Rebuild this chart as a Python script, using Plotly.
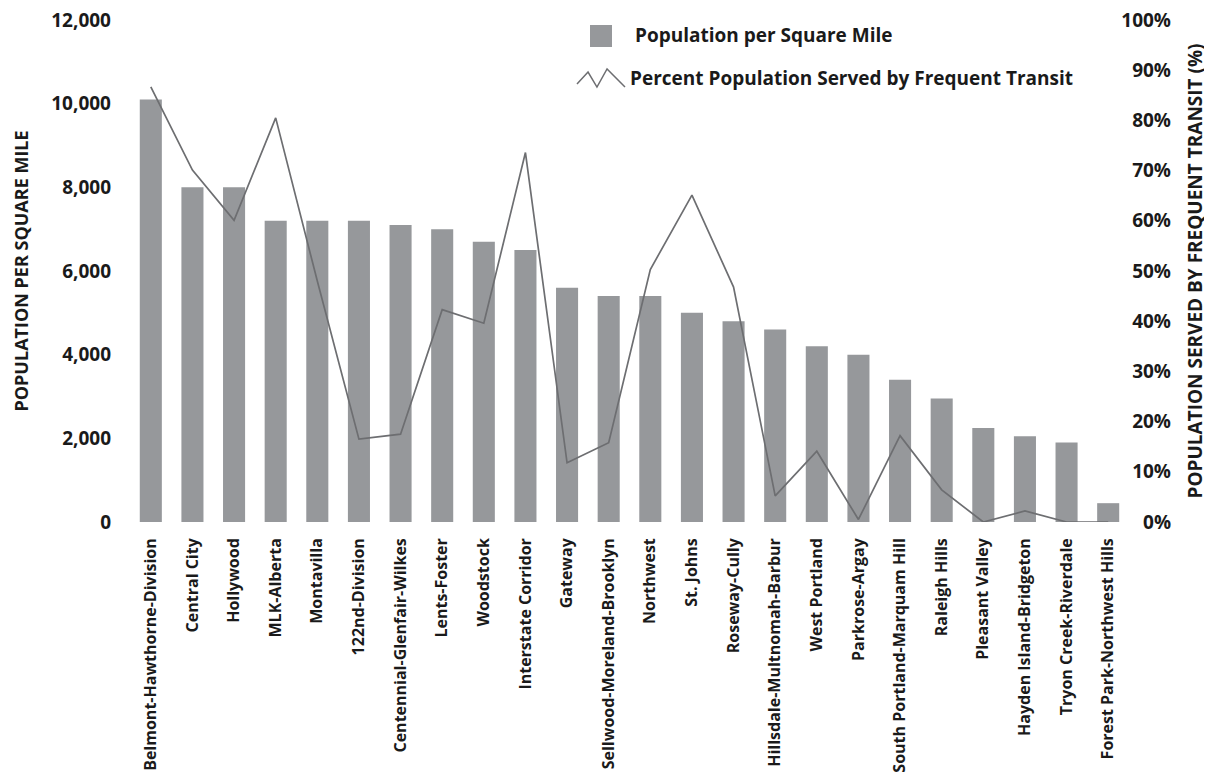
import plotly.graph_objects as go

# neighborhoods, in chart order
neighborhoods = [
    "Belmont-Hawthorne-Division", "Central City", "Hollywood", "MLK-Alberta",
    "Montavilla", "122nd-Division", "Centennial-Glenfair-Wilkes", "Lents-Foster",
    "Woodstock", "Interstate Corridor", "Gateway", "Sellwood-Moreland-Brooklyn",
    "Northwest", "St. Johns", "Roseway-Cully", "Hillsdale-Multnomah-Barbur",
    "West Portland", "Parkrose-Argay", "South Portland-Marquam Hill", "Raleigh Hills",
    "Pleasant Valley", "Hayden Island-Bridgeton", "Tryon Creek-Riverdale",
    "Forest Park-Northwest Hills",
]
pop_per_sq_mile = [
    10100, 8000, 8000, 7200, 7200, 7200, 7100, 7000, 6700, 6500, 5600, 5400,
    5400, 5000, 4800, 4600, 4200, 4000, 3400, 2950, 2250, 2050, 1900, 450,
]
pct_frequent_transit = [
    0.867, 0.701, 0.601, 0.805, 0.48, 0.165, 0.175, 0.423, 0.396, 0.736, 0.118, 0.158,
    0.503, 0.651, 0.468, 0.052, 0.141, 0.005, 0.172, 0.064, 0.0, 0.022, 0.0, 0.0,
]

BAR_GREY = "#96989b"
LINE_GREY = "#6d6e71"
FONT = dict(family="Open Sans", color="#1a1a1a", weight="bold")

# the page body adds an 8px margin, so the figure is shifted by that much
OFF = 8
W, H = 1212 - OFF, 777 - OFF
# plot area edges in screen pixels
X0, X1, Y0, Y1 = 130, 1192, 20, 522
PW, PH = X1 - X0, Y1 - Y0


def px(x):
    return (x - X0) / PW


def py(y):
    return (Y1 - y) / PH


fig = go.Figure()
fig.add_trace(go.Bar(
    x=neighborhoods, y=pop_per_sq_mile, name="Population per Square Mile",
    marker=dict(color=BAR_GREY, line=dict(width=0)),
))
fig.add_trace(go.Scatter(
    x=neighborhoods, y=pct_frequent_transit, yaxis="y2", mode="lines",
    name="Percent Population Served by Frequent Transit",
    line=dict(color=LINE_GREY, width=1.7),
))

fig.update_layout(
    width=W, height=H,
    margin=dict(l=X0 - OFF, r=W + OFF - X1, t=Y0 - OFF, b=H + OFF - Y1),
    paper_bgcolor="white", plot_bgcolor="white",
    showlegend=False, bargap=0.47,
    font=dict(size=16, **FONT),
    xaxis=dict(
        domain=[0, px(1129)], range=[-0.5, 23.5], tickangle=-90, automargin=False,
        tickfont=dict(size=16, **FONT), ticklabelstandoff=12,
        showline=False, showgrid=False,
    ),
    yaxis=dict(
        range=[0, 12000], dtick=2000, tickformat=",", showgrid=False, zeroline=False,
        automargin=False, ticklabeloverflow="allow",
        tickfont=dict(size=19, **FONT), ticklabelstandoff=18,
        title=dict(text="POPULATION PER SQUARE MILE", font=dict(size=18, **FONT), standoff=17),
    ),
    yaxis2=dict(
        overlaying="y", side="right", anchor="free", position=px(1174),
        range=[0, 1], dtick=0.1, tickformat=".0%", showgrid=False, zeroline=False,
        automargin=False, ticklabelposition="inside", ticklabeloverflow="allow",
        tickfont=dict(size=19, **FONT),
        title=dict(text="POPULATION SERVED BY FREQUENT TRANSIT (%)",
                   font=dict(size=19, **FONT), standoff=18),
    ),
)

# legend drawn by hand to get the square swatch and the zigzag icon
fig.add_shape(type="rect", xref="paper", yref="paper",
              x0=px(590), x1=px(612), y0=py(25), y1=py(47),
              fillcolor=BAR_GREY, line=dict(width=0))
zig = [(577, 84), (588, 72), (597, 87), (607, 69), (625, 87)]
path = "M " + " L ".join(f"{px(a):.4f},{py(b):.4f}" for a, b in zig)
fig.add_shape(type="path", xref="paper", yref="paper", path=path,
              line=dict(color=LINE_GREY, width=1.5))
fig.add_annotation(xref="paper", yref="paper", x=px(633), y=py(35),
                   xanchor="left", yanchor="middle",
                   text="Population per Square Mile", showarrow=False,
                   font=dict(size=19, **FONT))
fig.add_annotation(xref="paper", yref="paper", x=px(628), y=py(78),
                   xanchor="left", yanchor="middle",
                   text="Percent Population Served by Frequent Transit", showarrow=False,
                   font=dict(size=19, **FONT))

fig.write_html("out.html")
